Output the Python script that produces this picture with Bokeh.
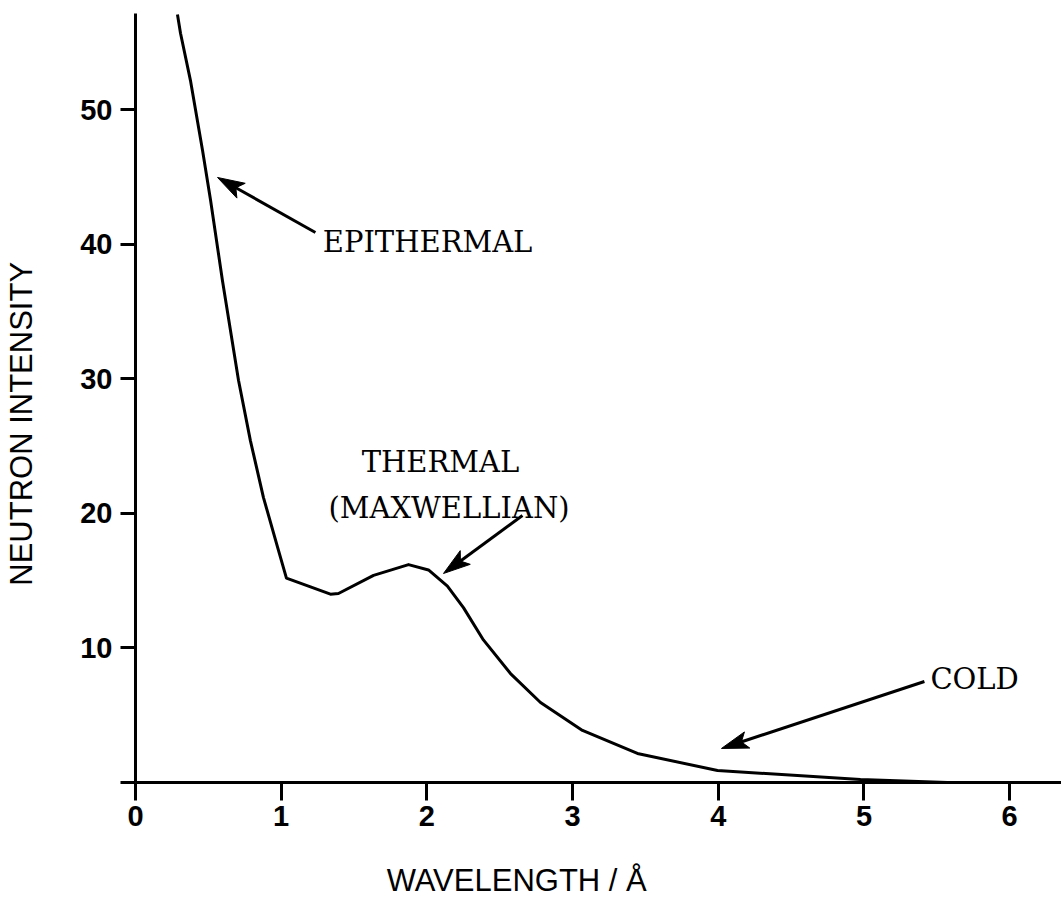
import math
from bokeh.plotting import figure
from bokeh.models import Range1d, FixedTicker, Label
from bokeh.embed import file_html
from bokeh.resources import INLINE

# Curve (wavelength in Å, neutron intensity)
wavelength = [0.288, 0.309, 0.377, 0.460, 0.515, 0.597, 0.707, 0.789, 0.878, 0.975,
              1.036, 1.338, 1.393, 1.634, 1.874, 2.011, 2.141, 2.251, 2.388, 2.574,
              2.780, 3.068, 3.445, 3.995, 4.976, 5.573, 5.800]
intensity = [57.1, 55.7, 52.2, 47.0, 43.3, 37.3, 29.9, 25.4, 21.2, 17.5,
             15.2, 14.0, 14.05, 15.4, 16.2, 15.8, 14.6, 13.0, 10.6, 8.1,
             5.95, 3.87, 2.16, 0.89, 0.22, 0.0, 0.0]

x_ticks = [0, 1, 2, 3, 4, 5, 6]
y_ticks = [0, 10, 20, 30, 40, 50]
x_title = "WAVELENGTH / Å"
y_title = "NEUTRON INTENSITY"

# Annotations: label text, label anchor, arrow tail and tip (data units)
ann_labels = ["EPITHERMAL", "THERMAL", "(MAXWELLIAN)", "COLD"]
ann_x = [1.285, 2.093, 2.152, 5.456]
ann_y = [40.15, 23.79, 20.44, 7.73]
ann_align = ["left", "center", "center", "left"]
arrow_tail_x = [1.235, 2.656, 5.415]
arrow_tail_y = [40.89, 19.85, 7.51]
arrow_tip_x = [0.563, 2.114, 4.022]
arrow_tip_y = [44.98, 15.54, 2.53]

X0, X1, Y0, Y1 = 0, 6.356, 0, 57.17
W, H = 1061, 900
LEFT, TOP, BOTTOM = 135, 13, 118
FW, FH = W - LEFT, H - TOP - BOTTOM

p = figure(width=W, height=H, output_backend="svg", toolbar_location=None,
           x_range=Range1d(X0, X1), y_range=Range1d(Y0, Y1),
           min_border_left=LEFT, min_border_right=0, min_border_top=TOP,
           min_border_bottom=BOTTOM)
p.outline_line_color = None
p.xgrid.visible = False
p.ygrid.visible = False
p.background_fill_color = "white"
p.border_fill_color = "white"

p.line(wavelength, intensity, line_color="black", line_width=3, line_join="round")

for ax, ticks in ((p.xaxis[0], x_ticks), (p.yaxis[0], y_ticks)):
    ax.ticker = FixedTicker(ticks=ticks)
    ax.axis_line_width = 3
    ax.axis_line_color = "black"
    ax.major_tick_line_width = 3
    ax.major_tick_line_color = "black"
    ax.major_tick_in = 0
    ax.minor_tick_line_color = None
    ax.major_label_text_font = "Liberation Sans"
    ax.major_label_text_font_size = "29px"
    ax.major_label_text_font_style = "bold"
    ax.major_label_text_color = "black"
    ax.axis_label_text_font = "Liberation Sans"
    ax.axis_label_text_font_size = "31px"
    ax.axis_label_text_font_style = "normal"
    ax.axis_label_text_color = "black"

nb = "\u00a0"
p.xaxis[0].major_tick_out = 18
p.xaxis[0].major_label_standoff = 5
p.xaxis[0].axis_label = x_title + nb * 19
p.xaxis[0].axis_label_standoff = 34
p.yaxis[0].major_tick_out = 15
p.yaxis[0].major_label_standoff = 8
p.yaxis[0].major_label_overrides = {0: ""}
p.yaxis[0].axis_label = y_title + nb * 6
p.yaxis[0].axis_label_standoff = 38

for t, x, y, a in zip(ann_labels, ann_x, ann_y, ann_align):
    p.add_layout(Label(x=x, y=y, text=t, text_align=a, text_baseline="alphabetic",
                       text_font="DejaVu Serif", text_font_size="29px", text_color="black"))

# Arrows: shaft plus a notched, filled head built in pixel space from tail/tip
sx, sy = FW / (X1 - X0), FH / (Y1 - Y0)
HEAD_L, HEAD_W, NOTCH = 27.0, 8.5, 6.0
head_xs, head_ys, shaft_x1, shaft_y1 = [], [], [], []
for tx, ty, hx, hy in zip(arrow_tail_x, arrow_tail_y, arrow_tip_x, arrow_tip_y):
    dx, dy = (hx - tx) * sx, (hy - ty) * sy
    n = math.hypot(dx, dy)
    ux, uy = dx / n, dy / n
    nx, ny = -uy, ux
    pts = [(0, 0), (-HEAD_L * ux + HEAD_W * nx, -HEAD_L * uy + HEAD_W * ny),
           (-(HEAD_L - NOTCH) * ux, -(HEAD_L - NOTCH) * uy),
           (-HEAD_L * ux - HEAD_W * nx, -HEAD_L * uy - HEAD_W * ny)]
    head_xs.append([hx + px / sx for px, _ in pts])
    head_ys.append([hy + py / sy for _, py in pts])
    shaft_x1.append(hx - (HEAD_L - NOTCH - 2) * ux / sx)
    shaft_y1.append(hy - (HEAD_L - NOTCH - 2) * uy / sy)

p.segment(arrow_tail_x, arrow_tail_y, shaft_x1, shaft_y1, line_color="black", line_width=3)
p.patches(head_xs, head_ys, fill_color="black", line_color="black", line_width=1)

open("out.html", "w").write(file_html(p, INLINE))
